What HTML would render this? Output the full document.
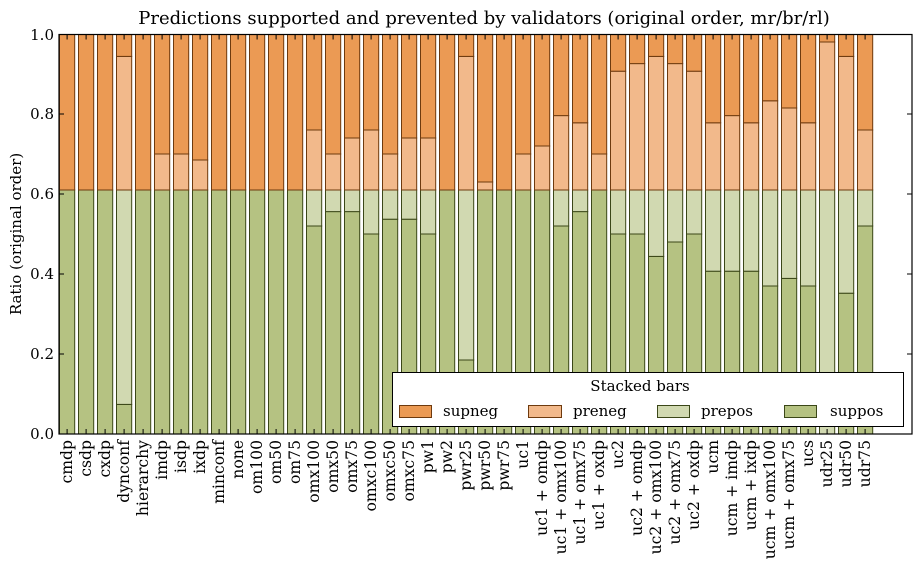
<!DOCTYPE html>
<html><head><meta charset="utf-8"><style>
body{margin:0;background:#fff}
svg{display:block;font-family:"DejaVu Serif","Liberation Serif",serif}
.a{fill:#b5c282;stroke:#3b4718;stroke-width:1}
.b{fill:#d1d9b1;stroke:#3b4718;stroke-width:1}
.c{fill:#f2b98b;stroke:#6e3a0e;stroke-width:1}
.d{fill:#eb9a54;stroke:#6e3a0e;stroke-width:1}
.t{font-size:15px}
.xl{font-size:15.6px}
</style></head><body>
<svg width="921" height="562" viewBox="0 0 921 562">
<text x="484" y="24" text-anchor="middle" font-size="18">Predictions supported and prevented by validators (original order, mr/br/rl)</text>
<g id="bars">
<g transform="translate(59.5,0)"><rect class="a" x="0" y="190" width="15.2" height="244"/><rect class="d" x="0" y="34.5" width="15.2" height="155.5"/></g>
<g transform="translate(78.5,0)"><rect class="a" x="0" y="190" width="15.2" height="244"/><rect class="d" x="0" y="34.5" width="15.2" height="155.5"/></g>
<g transform="translate(97.5,0)"><rect class="a" x="0" y="190" width="15.2" height="244"/><rect class="d" x="0" y="34.5" width="15.2" height="155.5"/></g>
<g transform="translate(116.5,0)"><rect class="a" x="0" y="404.4" width="15.2" height="29.6"/><rect class="b" x="0" y="190" width="15.2" height="214.4"/><rect class="c" x="0" y="56.4" width="15.2" height="133.6"/><rect class="d" x="0" y="34.5" width="15.2" height="21.9"/></g>
<g transform="translate(135.5,0)"><rect class="a" x="0" y="190" width="15.2" height="244"/><rect class="d" x="0" y="34.5" width="15.2" height="155.5"/></g>
<g transform="translate(154.5,0)"><rect class="a" x="0" y="190" width="15.2" height="244"/><rect class="c" x="0" y="154" width="15.2" height="36"/><rect class="d" x="0" y="34.5" width="15.2" height="119.5"/></g>
<g transform="translate(173.5,0)"><rect class="a" x="0" y="190" width="15.2" height="244"/><rect class="c" x="0" y="154" width="15.2" height="36"/><rect class="d" x="0" y="34.5" width="15.2" height="119.5"/></g>
<g transform="translate(192.5,0)"><rect class="a" x="0" y="190" width="15.2" height="244"/><rect class="c" x="0" y="160" width="15.2" height="30"/><rect class="d" x="0" y="34.5" width="15.2" height="125.5"/></g>
<g transform="translate(211.5,0)"><rect class="a" x="0" y="190" width="15.2" height="244"/><rect class="d" x="0" y="34.5" width="15.2" height="155.5"/></g>
<g transform="translate(230.5,0)"><rect class="a" x="0" y="190" width="15.2" height="244"/><rect class="d" x="0" y="34.5" width="15.2" height="155.5"/></g>
<g transform="translate(249.5,0)"><rect class="a" x="0" y="190" width="15.2" height="244"/><rect class="d" x="0" y="34.5" width="15.2" height="155.5"/></g>
<g transform="translate(268.5,0)"><rect class="a" x="0" y="190" width="15.2" height="244"/><rect class="d" x="0" y="34.5" width="15.2" height="155.5"/></g>
<g transform="translate(287.5,0)"><rect class="a" x="0" y="190" width="15.2" height="244"/><rect class="d" x="0" y="34.5" width="15.2" height="155.5"/></g>
<g transform="translate(306.5,0)"><rect class="a" x="0" y="226" width="15.2" height="208"/><rect class="b" x="0" y="190" width="15.2" height="36"/><rect class="c" x="0" y="130" width="15.2" height="60"/><rect class="d" x="0" y="34.5" width="15.2" height="95.5"/></g>
<g transform="translate(325.5,0)"><rect class="a" x="0" y="211.6" width="15.2" height="222.4"/><rect class="b" x="0" y="190" width="15.2" height="21.6"/><rect class="c" x="0" y="154" width="15.2" height="36"/><rect class="d" x="0" y="34.5" width="15.2" height="119.5"/></g>
<g transform="translate(344.5,0)"><rect class="a" x="0" y="211.6" width="15.2" height="222.4"/><rect class="b" x="0" y="190" width="15.2" height="21.6"/><rect class="c" x="0" y="138" width="15.2" height="52"/><rect class="d" x="0" y="34.5" width="15.2" height="103.5"/></g>
<g transform="translate(363.5,0)"><rect class="a" x="0" y="234" width="15.2" height="200"/><rect class="b" x="0" y="190" width="15.2" height="44"/><rect class="c" x="0" y="130" width="15.2" height="60"/><rect class="d" x="0" y="34.5" width="15.2" height="95.5"/></g>
<g transform="translate(382.5,0)"><rect class="a" x="0" y="219.2" width="15.2" height="214.8"/><rect class="b" x="0" y="190" width="15.2" height="29.2"/><rect class="c" x="0" y="154" width="15.2" height="36"/><rect class="d" x="0" y="34.5" width="15.2" height="119.5"/></g>
<g transform="translate(401.5,0)"><rect class="a" x="0" y="219.2" width="15.2" height="214.8"/><rect class="b" x="0" y="190" width="15.2" height="29.2"/><rect class="c" x="0" y="138" width="15.2" height="52"/><rect class="d" x="0" y="34.5" width="15.2" height="103.5"/></g>
<g transform="translate(420.5,0)"><rect class="a" x="0" y="234" width="15.2" height="200"/><rect class="b" x="0" y="190" width="15.2" height="44"/><rect class="c" x="0" y="138" width="15.2" height="52"/><rect class="d" x="0" y="34.5" width="15.2" height="103.5"/></g>
<g transform="translate(439.5,0)"><rect class="a" x="0" y="190" width="15.2" height="244"/><rect class="d" x="0" y="34.5" width="15.2" height="155.5"/></g>
<g transform="translate(458.5,0)"><rect class="a" x="0" y="360" width="15.2" height="74"/><rect class="b" x="0" y="190" width="15.2" height="170"/><rect class="c" x="0" y="56.4" width="15.2" height="133.6"/><rect class="d" x="0" y="34.5" width="15.2" height="21.9"/></g>
<g transform="translate(477.5,0)"><rect class="a" x="0" y="190" width="15.2" height="244"/><rect class="c" x="0" y="182" width="15.2" height="8"/><rect class="d" x="0" y="34.5" width="15.2" height="147.5"/></g>
<g transform="translate(496.5,0)"><rect class="a" x="0" y="190" width="15.2" height="244"/><rect class="d" x="0" y="34.5" width="15.2" height="155.5"/></g>
<g transform="translate(515.5,0)"><rect class="a" x="0" y="190" width="15.2" height="244"/><rect class="c" x="0" y="154" width="15.2" height="36"/><rect class="d" x="0" y="34.5" width="15.2" height="119.5"/></g>
<g transform="translate(534.5,0)"><rect class="a" x="0" y="190" width="15.2" height="244"/><rect class="c" x="0" y="146" width="15.2" height="44"/><rect class="d" x="0" y="34.5" width="15.2" height="111.5"/></g>
<g transform="translate(553.5,0)"><rect class="a" x="0" y="226" width="15.2" height="208"/><rect class="b" x="0" y="190" width="15.2" height="36"/><rect class="c" x="0" y="115.6" width="15.2" height="74.4"/><rect class="d" x="0" y="34.5" width="15.2" height="81.1"/></g>
<g transform="translate(572.5,0)"><rect class="a" x="0" y="211.6" width="15.2" height="222.4"/><rect class="b" x="0" y="190" width="15.2" height="21.6"/><rect class="c" x="0" y="122.8" width="15.2" height="67.2"/><rect class="d" x="0" y="34.5" width="15.2" height="88.3"/></g>
<g transform="translate(591.5,0)"><rect class="a" x="0" y="190" width="15.2" height="244"/><rect class="c" x="0" y="154" width="15.2" height="36"/><rect class="d" x="0" y="34.5" width="15.2" height="119.5"/></g>
<g transform="translate(610.5,0)"><rect class="a" x="0" y="234" width="15.2" height="200"/><rect class="b" x="0" y="190" width="15.2" height="44"/><rect class="c" x="0" y="71.2" width="15.2" height="118.8"/><rect class="d" x="0" y="34.5" width="15.2" height="36.7"/></g>
<g transform="translate(629.5,0)"><rect class="a" x="0" y="234" width="15.2" height="200"/><rect class="b" x="0" y="190" width="15.2" height="44"/><rect class="c" x="0" y="63.6" width="15.2" height="126.4"/><rect class="d" x="0" y="34.5" width="15.2" height="29.1"/></g>
<g transform="translate(648.5,0)"><rect class="a" x="0" y="256.4" width="15.2" height="177.6"/><rect class="b" x="0" y="190" width="15.2" height="66.4"/><rect class="c" x="0" y="56.4" width="15.2" height="133.6"/><rect class="d" x="0" y="34.5" width="15.2" height="21.9"/></g>
<g transform="translate(667.5,0)"><rect class="a" x="0" y="242" width="15.2" height="192"/><rect class="b" x="0" y="190" width="15.2" height="52"/><rect class="c" x="0" y="63.6" width="15.2" height="126.4"/><rect class="d" x="0" y="34.5" width="15.2" height="29.1"/></g>
<g transform="translate(686.5,0)"><rect class="a" x="0" y="234" width="15.2" height="200"/><rect class="b" x="0" y="190" width="15.2" height="44"/><rect class="c" x="0" y="71.2" width="15.2" height="118.8"/><rect class="d" x="0" y="34.5" width="15.2" height="36.7"/></g>
<g transform="translate(705.5,0)"><rect class="a" x="0" y="271.2" width="15.2" height="162.8"/><rect class="b" x="0" y="190" width="15.2" height="81.2"/><rect class="c" x="0" y="122.8" width="15.2" height="67.2"/><rect class="d" x="0" y="34.5" width="15.2" height="88.3"/></g>
<g transform="translate(724.5,0)"><rect class="a" x="0" y="271.2" width="15.2" height="162.8"/><rect class="b" x="0" y="190" width="15.2" height="81.2"/><rect class="c" x="0" y="115.6" width="15.2" height="74.4"/><rect class="d" x="0" y="34.5" width="15.2" height="81.1"/></g>
<g transform="translate(743.5,0)"><rect class="a" x="0" y="271.2" width="15.2" height="162.8"/><rect class="b" x="0" y="190" width="15.2" height="81.2"/><rect class="c" x="0" y="122.8" width="15.2" height="67.2"/><rect class="d" x="0" y="34.5" width="15.2" height="88.3"/></g>
<g transform="translate(762.5,0)"><rect class="a" x="0" y="286" width="15.2" height="148"/><rect class="b" x="0" y="190" width="15.2" height="96"/><rect class="c" x="0" y="100.8" width="15.2" height="89.2"/><rect class="d" x="0" y="34.5" width="15.2" height="66.3"/></g>
<g transform="translate(781.5,0)"><rect class="a" x="0" y="278.4" width="15.2" height="155.6"/><rect class="b" x="0" y="190" width="15.2" height="88.4"/><rect class="c" x="0" y="108" width="15.2" height="82"/><rect class="d" x="0" y="34.5" width="15.2" height="73.5"/></g>
<g transform="translate(800.5,0)"><rect class="a" x="0" y="286" width="15.2" height="148"/><rect class="b" x="0" y="190" width="15.2" height="96"/><rect class="c" x="0" y="122.8" width="15.2" height="67.2"/><rect class="d" x="0" y="34.5" width="15.2" height="88.3"/></g>
<g transform="translate(819.5,0)"><rect class="b" x="0" y="190" width="15.2" height="244"/><rect class="c" x="0" y="42" width="15.2" height="148"/><rect class="d" x="0" y="34.5" width="15.2" height="7.5"/></g>
<g transform="translate(838.5,0)"><rect class="a" x="0" y="293.2" width="15.2" height="140.8"/><rect class="b" x="0" y="190" width="15.2" height="103.2"/><rect class="c" x="0" y="56.4" width="15.2" height="133.6"/><rect class="d" x="0" y="34.5" width="15.2" height="21.9"/></g>
<g transform="translate(857.5,0)"><rect class="a" x="0" y="226" width="15.2" height="208"/><rect class="b" x="0" y="190" width="15.2" height="36"/><rect class="c" x="0" y="130" width="15.2" height="60"/><rect class="d" x="0" y="34.5" width="15.2" height="95.5"/></g>
</g>
<rect x="59" y="34.5" width="853" height="399.5" fill="none" stroke="#000" stroke-width="1.2"/>
<path stroke="#000" stroke-width="1" d="M59 434h5M59 354h5M59 274h5M59 194h5M59 114h5M59 34.5h5M912 434h-5M912 354h-5M912 274h-5M912 194h-5M912 114h-5M912 34.5h-5"/>
<path stroke="#000" stroke-width="1" d="M67.1 434v-5M86.1 434v-5M105.1 434v-5M124.1 434v-5M143.1 434v-5M162.1 434v-5M181.1 434v-5M200.1 434v-5M219.1 434v-5M238.1 434v-5M257.1 434v-5M276.1 434v-5M295.1 434v-5M314.1 434v-5M333.1 434v-5M352.1 434v-5M371.1 434v-5M390.1 434v-5M409.1 434v-5M428.1 434v-5M447.1 434v-5M466.1 434v-5M485.1 434v-5M504.1 434v-5M523.1 434v-5M542.1 434v-5M561.1 434v-5M580.1 434v-5M599.1 434v-5M618.1 434v-5M637.1 434v-5M656.1 434v-5M675.1 434v-5M694.1 434v-5M713.1 434v-5M732.1 434v-5M751.1 434v-5M770.1 434v-5M789.1 434v-5M808.1 434v-5M827.1 434v-5M846.1 434v-5M865.1 434v-5M67.1 34.5v5M86.1 34.5v5M105.1 34.5v5M124.1 34.5v5M143.1 34.5v5M162.1 34.5v5M181.1 34.5v5M200.1 34.5v5M219.1 34.5v5M238.1 34.5v5M257.1 34.5v5M276.1 34.5v5M295.1 34.5v5M314.1 34.5v5M333.1 34.5v5M352.1 34.5v5M371.1 34.5v5M390.1 34.5v5M409.1 34.5v5M428.1 34.5v5M447.1 34.5v5M466.1 34.5v5M485.1 34.5v5M504.1 34.5v5M523.1 34.5v5M542.1 34.5v5M561.1 34.5v5M580.1 34.5v5M599.1 34.5v5M618.1 34.5v5M637.1 34.5v5M656.1 34.5v5M675.1 34.5v5M694.1 34.5v5M713.1 34.5v5M732.1 34.5v5M751.1 34.5v5M770.1 34.5v5M789.1 34.5v5M808.1 34.5v5M827.1 34.5v5M846.1 34.5v5M865.1 34.5v5"/>
<g class="t" text-anchor="end">
<text x="54" y="439">0.0</text><text x="54" y="359">0.2</text><text x="54" y="279">0.4</text><text x="54" y="199">0.6</text><text x="54" y="119">0.8</text><text x="54" y="40">1.0</text>
</g>
<text class="t" transform="translate(21,234) rotate(-90)" text-anchor="middle">Ratio (original order)</text>
<g class="xl" text-anchor="end">
<text transform="translate(72,440) rotate(-90)">cmdp</text>
<text transform="translate(91,440) rotate(-90)">csdp</text>
<text transform="translate(110,440) rotate(-90)">cxdp</text>
<text transform="translate(129,440) rotate(-90)">dynconf</text>
<text transform="translate(148,440) rotate(-90)">hierarchy</text>
<text transform="translate(167,440) rotate(-90)">imdp</text>
<text transform="translate(186,440) rotate(-90)">isdp</text>
<text transform="translate(205,440) rotate(-90)">ixdp</text>
<text transform="translate(224,440) rotate(-90)">minconf</text>
<text transform="translate(243,440) rotate(-90)">none</text>
<text transform="translate(262,440) rotate(-90)">om100</text>
<text transform="translate(281,440) rotate(-90)">om50</text>
<text transform="translate(300,440) rotate(-90)">om75</text>
<text transform="translate(319,440) rotate(-90)">omx100</text>
<text transform="translate(338,440) rotate(-90)">omx50</text>
<text transform="translate(357,440) rotate(-90)">omx75</text>
<text transform="translate(376,440) rotate(-90)">omxc100</text>
<text transform="translate(395,440) rotate(-90)">omxc50</text>
<text transform="translate(414,440) rotate(-90)">omxc75</text>
<text transform="translate(433,440) rotate(-90)">pw1</text>
<text transform="translate(452,440) rotate(-90)">pw2</text>
<text transform="translate(471,440) rotate(-90)">pwr25</text>
<text transform="translate(490,440) rotate(-90)">pwr50</text>
<text transform="translate(509,440) rotate(-90)">pwr75</text>
<text transform="translate(528,440) rotate(-90)">uc1</text>
<text transform="translate(547,440) rotate(-90)">uc1 + omdp</text>
<text transform="translate(566,440) rotate(-90)">uc1 + omx100</text>
<text transform="translate(585,440) rotate(-90)">uc1 + omx75</text>
<text transform="translate(604,440) rotate(-90)">uc1 + oxdp</text>
<text transform="translate(623,440) rotate(-90)">uc2</text>
<text transform="translate(642,440) rotate(-90)">uc2 + omdp</text>
<text transform="translate(661,440) rotate(-90)">uc2 + omx100</text>
<text transform="translate(680,440) rotate(-90)">uc2 + omx75</text>
<text transform="translate(699,440) rotate(-90)">uc2 + oxdp</text>
<text transform="translate(718,440) rotate(-90)">ucm</text>
<text transform="translate(737,440) rotate(-90)">ucm + imdp</text>
<text transform="translate(756,440) rotate(-90)">ucm + ixdp</text>
<text transform="translate(775,440) rotate(-90)">ucm + omx100</text>
<text transform="translate(794,440) rotate(-90)">ucm + omx75</text>
<text transform="translate(813,440) rotate(-90)">ucs</text>
<text transform="translate(832,440) rotate(-90)">udr25</text>
<text transform="translate(851,440) rotate(-90)">udr50</text>
<text transform="translate(870,440) rotate(-90)">udr75</text>
</g>
<rect x="392.5" y="372.5" width="511" height="54" fill="#fff" stroke="#000" stroke-width="1"/>
<text class="t" x="640" y="391" text-anchor="middle">Stacked bars</text>
<rect class="d" x="399.5" y="405.5" width="32" height="12"/>
<rect class="c" x="528.5" y="405.5" width="33" height="12"/>
<rect class="b" x="657.5" y="405.5" width="32" height="12"/>
<rect class="a" x="784.5" y="405.5" width="32" height="12"/>
<g class="t"><text x="443" y="416">supneg</text><text x="573" y="416">preneg</text><text x="701" y="416">prepos</text><text x="830" y="416">suppos</text></g>
</svg>
</body></html>
